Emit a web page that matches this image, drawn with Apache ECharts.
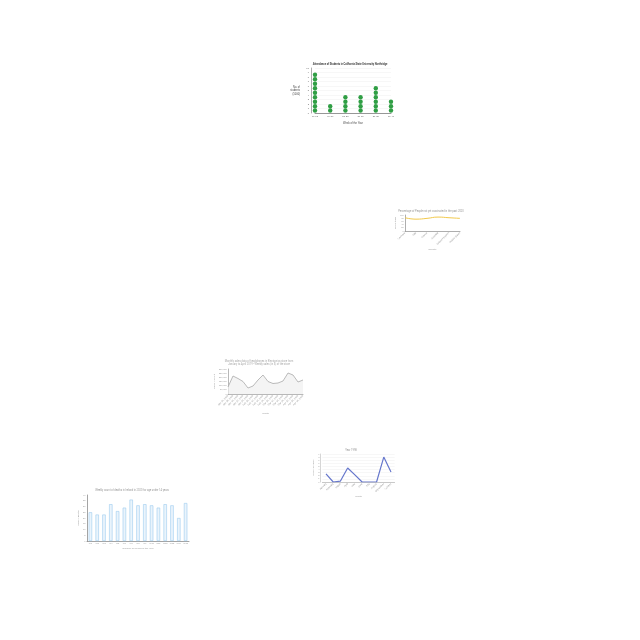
<!DOCTYPE html>
<html><head><meta charset="utf-8">
<script src="https://cdn.jsdelivr.net/npm/echarts@6/dist/echarts.min.js"></script>
<style>html,body{margin:0;padding:0;background:#fff}#c{width:640px;height:640px}</style>
</head><body><div id="c"></div>
<script>
// Chart 1: attendance (dot columns)
const attWeeks = ["11-15","16-20","21-25","26-30","31-35","36-40"];
const attValues = [9, 2, 4, 4, 6, 3];
// Chart 2: percentage line
const pctCountries = ["Germany","Italy","France","Australia","United Kingdom","United States"];
const pctValues = [83, 74, 79, 87, 83, 79];
// Chart 3: sales area line
const salesDates = ["Jan 01, 2019","Jan 08, 2019","Jan 15, 2019","Jan 22, 2019","Jan 29, 2019","Feb 05, 2019","Feb 12, 2019","Feb 19, 2019","Feb 26, 2019","Mar 05, 2019","Mar 12, 2019","Mar 19, 2019","Mar 26, 2019","Apr 02, 2019","Apr 09, 2019","Apr 16, 2019"];
const salesValues = [84000, 216000, 186000, 150000, 72000, 96000, 168000, 228000, 150000, 126000, 132000, 156000, 252000, 228000, 144000, 168000];
// Chart 4: Year 1998
const yearMonths = ["January","February","March","April","May","June","July","August","September","October"];
const yearValues = [2.6, 0, 0.3, 4.5, 2.3, 0, 0, 0, 8, 3.2];
// Chart 5: weekly counts
const weekLabels = ["W1","W2","W3","W4","W5","W6","W7","W8","W9","W10","W11","W12","W13","W14","W15"];
const weekValues = [25, 23, 23, 32, 26, 29, 36, 31, 32, 31, 29, 32, 31, 20, 33];

const tiny = 2.6;
const gray = '#999';
function ttl(text, cx, top, size, color, weight) {
  return {text, left: cx, top, textAlign: 'center', padding: 0,
    textStyle: {fontSize: size, color, fontWeight: weight || 'normal', fontFamily: 'Roboto', lineHeight: size + 0.6}};
}
const axisLine = c => ({show: true, lineStyle: {color: c, width: 0.6}});

const option = {
  backgroundColor: '#fff',
  animation: false,
  title: [
    ttl('Attendance of Students in California State University Northridge', 350, 62.5, 2.6, '#444', 'bold'),
    ttl('Percentage of People not yet vaccinated in the past 2020', 431, 209.8, tiny, gray),
    ttl('Monthly sales data of headphones in Electronics store from\nJanuary to April 2019 - Weekly sales (in $) of the store', 259, 359.6, tiny, '#aaa'),
    ttl('Year 1998', 351, 448.8, tiny, gray),
    ttl('Weekly count of deaths in Ireland in 2020 for age under 14 years', 132, 488.5, tiny, gray)
  ],
  grid: [
    {left: 315, top: 68, width: 76, height: 45},
    {left: 405, top: 215, width: 55, height: 16},
    {left: 228, top: 369, width: 75, height: 25},
    {left: 322.4, top: 454, width: 72.2, height: 28},
    {left: 87, top: 495, width: 102, height: 46}
  ],
  xAxis: [
    {gridIndex: 0, type: 'category', data: attWeeks, boundaryGap: false,
      axisLine: axisLine('#555'), axisTick: {show: false},
      axisLabel: {fontSize: 2.4, color: '#666', margin: 2.5},
      name: 'Week of the Year', nameLocation: 'middle', nameGap: 8.5,
      nameTextStyle: {fontSize: 2.6, color: '#444'}},
    {gridIndex: 1, type: 'category', data: pctCountries, boundaryGap: false,
      axisLine: axisLine('#777'), axisTick: {show: false},
      axisLabel: {fontSize: 2.4, color: gray, rotate: 45, margin: 1.5, interval: 0},
      name: 'Country', nameLocation: 'middle', nameGap: 17,
      nameTextStyle: {fontSize: 2.4, color: gray}},
    {gridIndex: 2, type: 'category', data: salesDates, boundaryGap: false,
      axisLine: axisLine('#888'), axisTick: {show: false},
      axisLabel: {fontSize: 2.4, color: gray, rotate: 45, margin: 1.5, interval: 0},
      name: 'Month', nameLocation: 'middle', nameGap: 18,
      nameTextStyle: {fontSize: 2.4, color: gray}},
    {gridIndex: 3, type: 'category', data: yearMonths, boundaryGap: true,
      axisLine: axisLine('#aaa'), axisTick: {show: false},
      axisLabel: {fontSize: 2.4, color: gray, rotate: 45, margin: 1.5, interval: 0},
      name: 'Month', nameLocation: 'middle', nameGap: 13,
      nameTextStyle: {fontSize: 2.4, color: gray}},
    {gridIndex: 4, type: 'category', data: weekLabels, boundaryGap: true,
      axisLine: axisLine('#666'), axisTick: {show: false},
      axisLabel: {fontSize: 2.2, color: gray, margin: 1.8, interval: 0},
      name: 'Number of Weeks in the year', nameLocation: 'middle', nameGap: 6.5,
      nameTextStyle: {fontSize: 2.4, color: gray}}
  ],
  yAxis: [
    {gridIndex: 0, type: 'value', min: 0, max: 10, interval: 1, offset: 4,
      axisLine: axisLine('#777'), axisTick: {show: false},
      axisLabel: {fontSize: 2.4, color: '#666', margin: 2},
      splitLine: {lineStyle: {color: '#eee', width: 0.5}},
      name: 'No. of\nstudents\n(1000)', nameLocation: 'middle', nameRotate: 0, nameGap: 11,
      nameTextStyle: {fontSize: 2.6, color: '#444', lineHeight: 3.3}},
    {gridIndex: 1, type: 'value', min: 0, max: 100, interval: 20,
      axisLine: axisLine('#777'), axisTick: {show: false},
      axisLabel: {fontSize: 2.2, color: gray, margin: 1.2},
      splitLine: {show: false},
      name: 'Percentage', nameLocation: 'middle', nameGap: 6,
      nameTextStyle: {fontSize: 2.4, color: gray}},
    {gridIndex: 2, type: 'value', min: 0, max: 300000, interval: 50000,
      axisLine: axisLine('#888'), axisTick: {show: false},
      axisLabel: {fontSize: 2.2, color: gray, margin: 1.2},
      splitLine: {show: false},
      name: 'Sales Amount', nameLocation: 'middle', nameGap: 13,
      nameTextStyle: {fontSize: 2.4, color: gray}},
    {gridIndex: 3, type: 'value', min: 0, max: 9, interval: 1, offset: 2,
      axisLine: axisLine('#bbb'), axisTick: {show: false},
      axisLabel: {fontSize: 2.2, color: gray, margin: 1},
      splitLine: {lineStyle: {color: '#eee', width: 0.5}},
      name: 'Number of cases', nameLocation: 'middle', nameGap: 4.5,
      nameTextStyle: {fontSize: 2.2, color: gray}},
    {gridIndex: 4, type: 'value', min: 0, max: 40, interval: 5,
      axisLine: axisLine('#666'), axisTick: {show: false},
      axisLabel: {fontSize: 2.2, color: gray, margin: 1.5},
      splitLine: {show: false},
      name: 'Weekly deaths', nameLocation: 'middle', nameGap: 6,
      nameTextStyle: {fontSize: 2.4, color: gray}}
  ],
  series: [
    {type: 'pictorialBar', xAxisIndex: 0, yAxisIndex: 0, data: attValues,
      symbol: 'circle', symbolRepeat: true, symbolSize: [4.4, 4.5], symbolMargin: 0,
      itemStyle: {color: '#2f9e44', borderColor: '#1f7a33', borderWidth: 0.3}},
    {type: 'line', xAxisIndex: 1, yAxisIndex: 1, data: pctValues, smooth: true,
      showSymbol: false, lineStyle: {color: '#f2c94c', width: 1}},
    {type: 'line', xAxisIndex: 2, yAxisIndex: 2, data: salesValues,
      showSymbol: false, lineStyle: {color: '#aaa', width: 0.8},
      areaStyle: {color: '#f0f0f0'}},
    {type: 'line', xAxisIndex: 3, yAxisIndex: 3, data: yearValues,
      showSymbol: false, lineStyle: {color: '#6677cc', width: 1.2}},
    {type: 'bar', xAxisIndex: 4, yAxisIndex: 4, data: weekValues, barWidth: '50%',
      itemStyle: {color: '#eaf4fc', borderColor: '#9ccbef', borderWidth: 0.6}}
  ]
};
const chart = echarts.init(document.getElementById('c'), null, {renderer: 'canvas'});
chart.setOption(option);
</script>
</body></html>
